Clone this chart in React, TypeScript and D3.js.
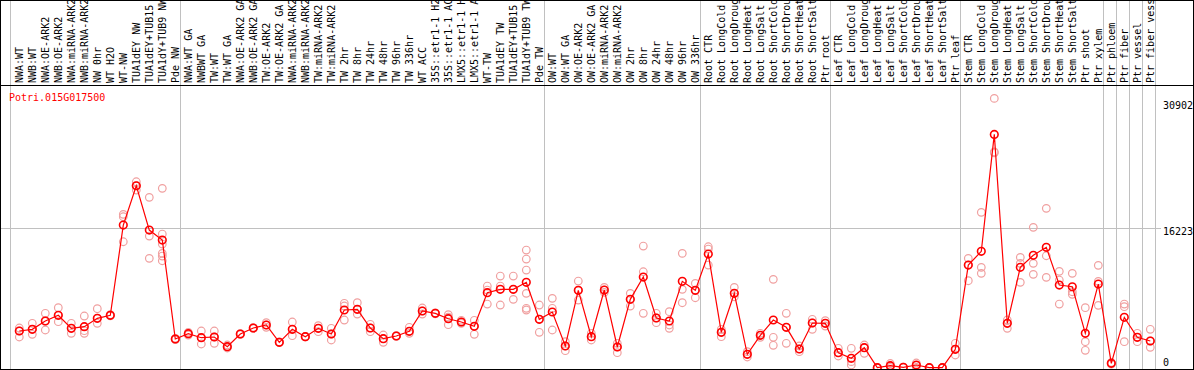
import React from "react";
import * as d3 from "d3";

const labels: string[] = [
  "NWA:WT", "NWB:WT", "NWA:OE-ARK2", "NWB:OE-ARK2", "NWA:miRNA-ARK2", "NWB:miRNA-ARK2", "NW 0hr", "WT H2O", "WT-NW",
  "TUA1dEY NW", "TUA1dEY+TUB15", "TUA1dY+TUB9 NW", "Pde NW",
  "NWA:WT GA", "NWBWT GA", "TW:WT", "TW:WT GA", "NWA:OE-ARK2 GA", "NWB:OE-ARK2 GA", "TW:OE-ARK2", "TW:OE-ARK2 GA",
  "NWA:miRNA-ARK2", "NWB:miRNA-ARK2", "TW:miRNA-ARK2", "TW:miRNA-ARK2", "TW 2hr", "TW 8hr", "TW 24hr", "TW 48hr",
  "TW 96hr", "TW 336hr", "WT ACC", "35S::etr1-1 H2", "35S::etr1-1 AC", "LMX5::etr1-1 H", "LMX5::etr1-1 A", "WT-TW",
  "TUA1dEY TW", "TUA1dEY+TUB15", "TUA1dY+TUB9 TW", "Pde TW",
  "OW:WT", "OW:WT GA", "OW:OE-ARK2", "OW:OE-ARK2 GA", "OW:miRNA-ARK2", "OW:miRNA-ARK2", "OW 2hr", "OW 8hr", "OW 24hr",
  "OW 48hr", "OW 96hr", "OW 336hr",
  "Root CTR", "Root LongCold", "Root LongDroug", "Root LongHeat", "Root LongSalt", "Root ShortCold", "Root ShortDrou",
  "Root ShortHeat", "Root ShortSalt", "Ptr root",
  "Leaf CTR", "Leaf LongCold", "Leaf LongDroug", "Leaf LongHeat", "Leaf LongSalt", "Leaf ShortCold", "Leaf ShortDrou",
  "Leaf ShortHeat", "Leaf ShortSalt", "Ptr leaf",
  "Stem CTR", "Stem LongCold", "Stem LongDroug", "Stem LongHeat", "Stem LongSalt", "Stem ShortCold", "Stem ShortDrou",
  "Stem ShortHeat", "Stem ShortSalt", "Ptr shoot", "Ptr xylem",
  "Ptr phloem", "Ptr fiber", "Ptr vessel", "Ptr fiber vessel",
];

const groupSizes: number[] = [13, 28, 12, 10, 10, 11, 1, 1, 1, 1];

const means: number[] = [
  4297, 4494, 5458, 6120, 4610, 4796, 5772, 6120, 16607, 21171, 16026, 14865, 3368,
  3983, 3519, 3600, 2474, 3948, 4645, 4994, 2985, 4494, 3635, 4610, 3948, 6736, 6817, 4645, 3403,
  3716, 4262, 6619, 6352, 5725, 5342, 4843, 8745, 9139, 9139, 9952, 5656,
  6503, 2555, 9023, 3635, 9058, 2439, 7978, 10568, 5807, 5458, 10068, 9023,
  13239, 4146, 8675, 1591, 3797, 5574, 4726, 2206, 5226, 5191,
  1777, 1126, 2357, 35, 267, 81, 348, 35, 35, 2172,
  11961, 13552, 27139, 5191, 11694, 13088, 14017, 9639, 9441, 4030, 9755,
  546, 5888, 3565, 3135,
];

const replicates: number[][] = [
  [4645, 4297, 3600], [5191, 4494, 3914], [6352, 5458, 4413], [7003, 6120, 5377], [5191, 4610, 4030],
  [6039, 4332, 4030], [6886, 5772, 5191], [6050, 6120, 6190], [17849, 17570, 14667], [21635, 21171, 20671],
  [19823, 15329, 12740], [20869, 15561, 14400, 13320, 13007, 12461], [3300, 3368, 3440],
  [4146, 3983, 3832], [4297, 3519, 2787], [4297, 3600, 2868], [2671, 2474, 2323], [3900, 3948, 4000],
  [4600, 4645, 4690], [5261, 4994, 4726], [2940, 2985, 3030], [5342, 4494, 3751], [3600, 3635, 3670],
  [4912, 4610, 4216], [4610, 3948, 3252], [7514, 7200, 5574], [7583, 6817, 6271], [5075, 4645, 4216],
  [3832, 3403, 2985], [3680, 3716, 3750], [4726, 4262, 4030], [6968, 6619, 6271], [6300, 6352, 6400],
  [6200, 5900, 5028], [5539, 5342, 5191], [5539, 4843, 3914], [9523, 9058, 7432], [10684, 9523, 7316],
  [10684, 9139, 7978], [13703, 12658, 11381, 8675, 6933, 6736], [7316, 5656, 4146],
  [8094, 6933, 4413], [3054, 2555, 2009], [10103, 9023, 7897], [4030, 3635, 3252], [9372, 9058, 8791],
  [2868, 2439, 1777], [8675, 7978, 7200], [14168, 11183, 6352], [6352, 5807, 5261], [6538, 4610, 4994],
  [13320, 9139, 7583], [9836, 9023, 8164],
  [14087, 13819, 11961], [4494, 4146, 3635], [9372, 8675, 8280], [1893, 1591, 1277], [4030, 3797, 3565],
  [10301, 3565, 2636], [6352, 4726, 2868], [2206, 1893, 2555], [5656, 5226, 4494], [5493, 5191, 4877],
  [2288, 1777, 1394], [2288, 740, 348], [2671, 2357, 1707], [0, 35, 70], [520, 244, 58], [60, 81, 100],
  [580, 290, 58], [20, 35, 50], [20, 35, 50], [2868, 2172, 1510],
  [12739, 11961, 10138], [18081, 11694, 10997], [31320, 25100, 25000], [5574, 5191, 4610],
  [12856, 12159, 9952], [16339, 12159, 10881], [18546, 13041, 10533], [11230, 10219, 7432],
  [10997, 8861, 8559], [7003, 3054, 2056], [11927, 10068, 7281],
  [450, 546, 640], [7432, 7119, 3054], [4030, 3565, 3054], [4494, 3135, 2404],
];

const yTicks: number[] = [0, 16223, 30902];
const title = "Potri.015G017500";

const W = 1194;
const H = 370;
const mono = "'DejaVu Sans Mono', monospace";

export default function App() {
  const idx = labels.map((_, i) => i);
  const x = d3.scalePoint<number>().domain(idx).range([19.3, 19.3 + 13 * (labels.length - 1)]);
  const y = d3.scaleLinear().domain([0, 30902]).range([368, 102]);
  const step = x.step();

  const bounds: number[] = [0];
  groupSizes.forEach((s) => bounds.push(bounds[bounds.length - 1] + s));

  const line = d3
    .line<number>()
    .x((_, i) => x(i) as number)
    .y((d) => y(d));

  return (
    <svg width={W} height={H} style={{ position: "absolute", left: 0, top: 0, background: "#fff" }}>
      <defs>
        <clipPath id="lblclip">
          <rect x={0} y={1} width={W} height={84} />
        </clipPath>
      </defs>
      <rect x={0} y={0} width={W} height={H} fill="#fff" />
      {bounds.map((b, i) => {
        const gx = b === 0 ? 10.5 : Math.round((x(b - 1) as number) + step - 8.3) + 0.5;
        return <line key={"g" + i} x1={gx} x2={gx} y1={0} y2={H} stroke="#c0c0c0" strokeWidth={1} />;
      })}
      <line x1={0} x2={1161} y1={Math.round(y(16223)) + 0.5} y2={Math.round(y(16223)) + 0.5} stroke="#c0c0c0" strokeWidth={1} />
      <g clipPath="url(#lblclip)">
        {labels.map((l, i) => (
          <text
            key={"l" + i}
            transform={`translate(${(x(i) as number) + 0.5},83) rotate(-90)`}
            fontFamily={mono}
            fontSize={10}
            dominantBaseline="central"
            fill="#000"
          >
            {l}
          </text>
        ))}
      </g>
      <line x1={0} x2={W} y1={85.5} y2={85.5} stroke="#000" strokeWidth={1} />
      <text x={9} y={101} fontFamily={mono} fontSize={10} fill="#ff0000">
        {title}
      </text>
      {yTicks.map((t) => (
        <text
          key={"t" + t}
          x={1163}
          y={t === 0 ? 366 : y(t) + 7}
          fontFamily={mono}
          fontSize={10}
          fill="#000"
        >
          {t}
        </text>
      ))}
      <g>
        {replicates.map((reps, i) =>
          reps.map((v, j) => (
            <circle
              key={`r${i}-${j}`}
              cx={x(i) as number}
              cy={y(v)}
              r={3.8}
              fill="none"
              stroke="#f0a0a0"
              strokeWidth={1.2}
            />
          ))
        )}
      </g>
      <path d={line(means) || ""} fill="none" stroke="#ff0000" strokeWidth={1.2} />
      <g>
        {means.map((v, i) => (
          <circle key={"m" + i} cx={x(i) as number} cy={y(v)} r={3.8} fill="none" stroke="#ff0000" strokeWidth={1.6} />
        ))}
      </g>
      <rect x={0.5} y={0.5} width={W - 1} height={H - 1} fill="none" stroke="#000" strokeWidth={1} />
    </svg>
  );
}
